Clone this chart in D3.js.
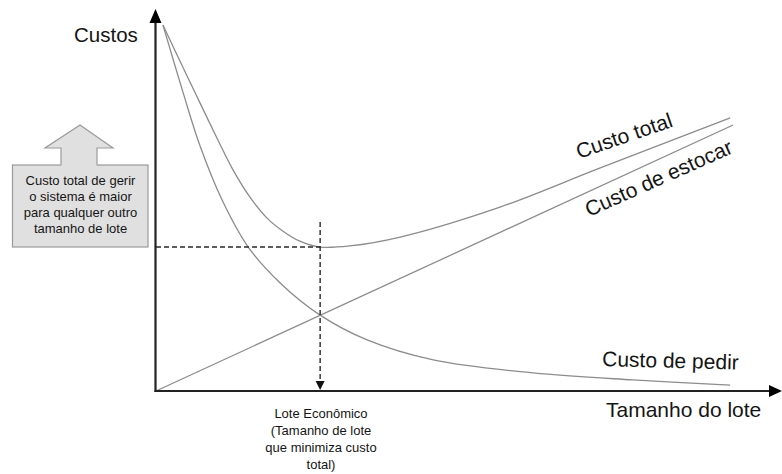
<!DOCTYPE html>
<html>
<head>
<meta charset="utf-8">
<script src="https://cdn.jsdelivr.net/npm/d3@7"></script>
<style>
  html, body { margin: 0; padding: 0; background: #fff; }
  svg { display: block; }
  text { font-family: "Liberation Sans", Arial, sans-serif; fill: #151515; }
</style>
</head>
<body>
<script>
// ---- Data (arbitrary units: lot size 0..100, cost 0..100) ----
const lotePedir   = [1.2, 4.7, 7.6, 11.4, 15.9, 21.4, 28.3, 36.4, 47.8, 65.0, 82.2, 99.0];
const custoPedir  = [98.9, 80.5, 66.2, 51.6, 38.9, 29.2, 20.5, 13.8, 8.4, 4.9, 3.0, 1.6];

const loteTotal   = [1.2, 4.7, 7.6, 10.5, 13.3, 16.2, 19.1, 21.9, 24.8, 28.3, 33.4, 42.1, 59.3, 76.6, 99.0];
const custoTotal  = [98.9, 87.3, 77.8, 68.4, 59.7, 52.4, 46.8, 43.2, 40.5, 38.9, 39.2, 41.6, 49.7, 60.3, 73.8];

const loteEstocar  = [0, 99.5];
const custoEstocar = [0, 71.9];

const loteEconomico = 28.3;   // lot size that minimises total cost
const custoMinimo   = 38.9;   // minimum total cost
const topoSeta      = 45.7;   // top of the vertical dashed arrow

const labelsCurvas = ["Custo total", "Custo de estocar", "Custo de pedir"];
const eixoY = "Custos";
const eixoX = "Tamanho do lote";
const notaLote = ["Lote Econômico", "(Tamanho de lote", "que minimiza custo", "total)"];
const notaCaixa = ["Custo total de gerir", "o sistema é maior", "para qualquer outro", "tamanho de lote"];

// ---- Setup ----
const W = 782, H = 474;
const svg = d3.select("body").append("svg").attr("width", W).attr("height", H);

const x = d3.scaleLinear().domain([0, 100]).range([156, 736]);
const y = d3.scaleLinear().domain([0, 100]).range([391, 21]);

// ---- Curves ----
const curveColor = "#8c8c8c";
const line = d3.line().x(d => x(d[0])).y(d => y(d[1])).curve(d3.curveCatmullRom.alpha(0.5));

svg.append("path")
  .datum(d3.zip(lotePedir, custoPedir))
  .attr("d", line).attr("fill", "none").attr("stroke", curveColor).attr("stroke-width", 1.3);

svg.append("path")
  .datum(d3.zip(loteTotal, custoTotal))
  .attr("d", line).attr("fill", "none").attr("stroke", curveColor).attr("stroke-width", 1.3);

svg.append("path")
  .datum(d3.zip(loteEstocar, custoEstocar))
  .attr("d", d3.line().x(d => x(d[0])).y(d => y(d[1])))
  .attr("fill", "none").attr("stroke", curveColor).attr("stroke-width", 1.3);

// ---- Dashed guides ----
const dashColor = "#2a2a2a";
svg.append("line")
  .attr("x1", x(0)).attr("x2", x(loteEconomico))
  .attr("y1", y(custoMinimo)).attr("y2", y(custoMinimo))
  .attr("stroke", dashColor).attr("stroke-width", 1.4).attr("stroke-dasharray", "5,3");
svg.append("line")
  .attr("x1", x(loteEconomico)).attr("x2", x(loteEconomico))
  .attr("y1", y(topoSeta)).attr("y2", y(0) - 8)
  .attr("stroke", dashColor).attr("stroke-width", 1.4).attr("stroke-dasharray", "5,3");
// arrow head at the bottom of the vertical dashed line
{
  const cx = x(loteEconomico), cy = y(0);
  svg.append("path")
    .attr("d", `M${cx - 4.5},${cy - 10} L${cx + 4.5},${cy - 10} L${cx},${cy - 1} Z`)
    .attr("fill", "#111");
}

// ---- Axes ----
const axisColor = "#222";
const x0 = x(0) - 0.5, yBase = y(0);
svg.append("line").attr("x1", x0).attr("x2", x0).attr("y1", yBase + 1).attr("y2", 20)
  .attr("stroke", axisColor).attr("stroke-width", 2.2);
svg.append("path").attr("d", `M${x0},9 L${x0 - 6},23 L${x0 + 6},23 Z`).attr("fill", "#000");

svg.append("line").attr("x1", x0 - 1).attr("x2", 772).attr("y1", yBase).attr("y2", yBase)
  .attr("stroke", axisColor).attr("stroke-width", 2.2);
svg.append("path").attr("d", `M782,${yBase} L769,${yBase - 6} L769,${yBase + 6} Z`).attr("fill", "#000");

// ---- Axis titles ----
svg.append("text").attr("x", 74).attr("y", 42).attr("font-size", 20.5).text(eixoY);
svg.append("text").attr("x", 606).attr("y", 417).attr("font-size", 21).text(eixoX);

// ---- Curve labels ----
svg.append("text").attr("transform", "translate(579,159) rotate(-19)")
  .attr("font-size", 21).text(labelsCurvas[0]);
svg.append("text").attr("transform", "translate(589,217) rotate(-24)")
  .attr("font-size", 21).text(labelsCurvas[1]);
svg.append("text").attr("transform", "translate(602,366) rotate(1.5)")
  .attr("font-size", 21).text(labelsCurvas[2]);

// ---- Economic lot note ----
svg.append("g").selectAll("text").data(notaLote).join("text")
  .attr("x", 321).attr("y", (d, i) => 418 + i * 17)
  .attr("text-anchor", "middle").attr("font-size", 13).text(d => d);

// ---- Left box with up arrow ----
const boxFill = "#e0e0e0", boxStroke = "#9a9a9a";
svg.append("path")
  .attr("d", "M80,125 L113,148 L97,148 L97,165.5 L61,165.5 L61,148 L45,148 Z")
  .attr("fill", boxFill).attr("stroke", boxStroke).attr("stroke-width", 1.2);
svg.append("rect").attr("x", 12.5).attr("y", 165).attr("width", 135.5).attr("height", 82)
  .attr("fill", boxFill).attr("stroke", boxStroke).attr("stroke-width", 1.2);
svg.append("path").attr("d", "M61.5,165 L96.5,165").attr("stroke", boxFill).attr("stroke-width", 2);
svg.append("g").selectAll("text").data(notaCaixa).join("text")
  .attr("x", 80.5).attr("y", (d, i) => 185 + i * 16)
  .attr("text-anchor", "middle").attr("font-size", 13).text(d => d);
</script>
</body>
</html>
